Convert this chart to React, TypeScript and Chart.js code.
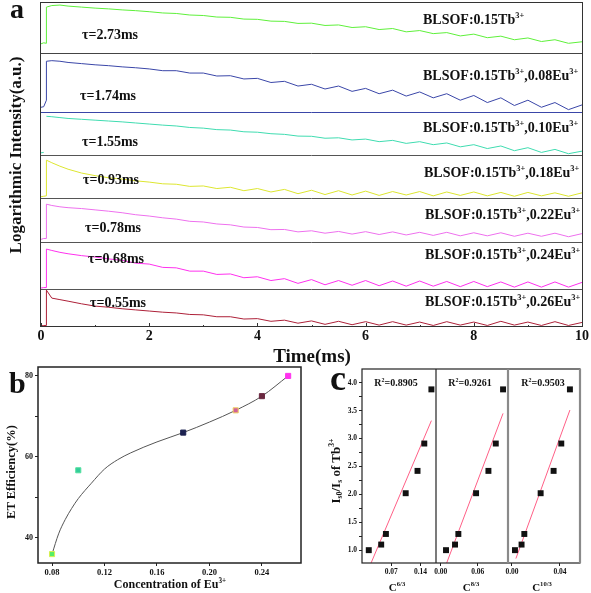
import React, { useEffect, useRef } from 'react';
import { Chart, registerables } from 'chart.js';

Chart.register(...registerables);

// ================= DATA =================
// Panel a: luminescence decay curves (log intensity, position inside each strip 0..100)
const decayTimes = [0, 0.05, 0.1, 0.1, 0.2, 0.35, 0.5,
  0.75,
  1, 1.25, 1.5, 1.75,
  2, 2.25, 2.5, 2.75,
  3, 3.25, 3.5, 3.75,
  4, 4.25, 4.5, 4.75,
  5, 5.25, 5.5, 5.75,
  6, 6.25, 6.5, 6.75,
  7, 7.25, 7.5, 7.75,
  8, 8.25, 8.5, 8.75,
  9, 9.25, 9.5, 9.75,
  10];

const tb015 = [18, 20, 19, 90, 93, 94, 92,
  90,
  88, 86.5, 84.5, 83,
  81, 78.5, 77.5, 74.5,
  73.5, 70.5, 70, 66.5,
  66, 62.5, 62, 58,
  58.5, 54, 55, 50,
  51.5, 46, 48, 41.5,
  44, 38, 40, 33.5,
  37, 30, 33, 26,
  29.5, 22.5, 26, 19,
  22];

const eu008 = [8, 9, 20, 86, 87, 86, 84,
  82,
  80, 78.5, 76.5, 75,
  73, 70, 70, 66,
  66, 61, 61.5, 56,
  57, 50, 52, 44,
  47, 39, 44, 35,
  40, 31, 37, 27,
  34, 24, 31, 20,
  28, 16, 24, 11,
  20, 8, 16, 4,
  12];

const eu010 = [5, 6, null, 90, 89, 87, 85,
  83,
  81, 79, 77, 74.5,
  72, 69.5, 67.5, 64,
  62.5, 59, 58, 54,
  53, 49.5, 48, 44,
  43.5, 39, 40, 35,
  37, 31, 34, 27,
  31, 24, 28, 19,
  24, 15, 21, 10,
  17, 6, 13, 3,
  9];

const eu018 = [3, 4, 5, 88, 82, 74, 67,
  58,
  52, 47, 44, 40,
  37, 33, 32, 27,
  28, 22, 25, 17,
  22, 14, 20, 10,
  18, 8, 17, 7,
  16, 6, 15, 7,
  15, 5, 14, 6,
  14, 5, 13, 4,
  13, 5, 12, 4,
  12];

const eu022 = [6, 8, 8, 86, 83, 80, 78,
  76,
  73, 70, 66.5, 62,
  59, 55, 52, 47,
  45.5, 41, 39, 34,
  33, 28, 28.5, 23,
  25.5, 20, 24, 18,
  23.5, 17, 23, 16,
  22, 15, 22, 14,
  21, 14, 21, 13,
  20, 13, 20, 12,
  19];

const eu024 = [2, 3, 3, 85, 82, 78, 75,
  71,
  68, 64, 61, 55,
  53, 46, 45, 38,
  38, 31, 32, 24,
  26, 18, 22, 12,
  20, 9, 18, 8,
  18, 7, 17, 6,
  17, 6, 16, 5,
  16, 5, 15, 4,
  15, 4, 15, 4,
  14];

const eu026 = [3, 4, 4, 97, 76, 72, 68,
  61,
  55, 52, 48, 45,
  42, 39, 37, 33,
  32, 27, 27, 21,
  22, 15, 18, 10,
  16, 7, 15, 6,
  14, 5, 14, 5,
  13, 4, 14, 5,
  13, 4, 15, 5,
  13, 4, 14, 4,
  12];

const decaySeries = [tb015, eu008, eu010, eu018, eu022, eu024, eu026];
const tbLevel = '0.15';
const euLevels = ['', '0.08', '0.10', '0.18', '0.22', '0.24', '0.26'];
const lifetimes = ['2.73', '1.74', '1.55', '0.93', '0.78', '0.68', '0.55'];
const timeTicks = [0, 2, 4, 6, 8, 10];

// Panel b: energy-transfer efficiency
const euConc = [0.08, 0.10, 0.18, 0.22, 0.24, 0.26];
const etEff = [36, 56.7, 66, 71.5, 75, 80];
const fitConc = [0.08, 0.085, 0.09, 0.095, 0.10, 0.11, 0.12, 0.13, 0.14, 0.16, 0.18, 0.20, 0.22, 0.24, 0.26];
const fitEff = [36, 41, 44.5, 47.3, 49.7, 53.5, 57, 59.3, 61, 63.7, 66, 68.6, 71.5, 75, 80];
const effXTicks = [0.08, 0.12, 0.16, 0.20, 0.24];
const effYTicks = [40, 50, 60, 70, 80];

// Panel c: Is0/Is vs C^(n/3)
const ratioY = [1.0, 1.1, 1.29, 2.02, 2.42, 2.91, 3.88];
const c6 = [0.0162, 0.0459, 0.0572, 0.1045, 0.1328, 0.149, 0.166];
const c8 = [0.0086, 0.0232, 0.0286, 0.0573, 0.0773, 0.0892, 0.101];
const c10 = [0.0025, 0.008, 0.0103, 0.0239, 0.0347, 0.0411, 0.0483];
const fit6X = [0.0217, 0.166];
const fit6Y = [0.77, 3.32];
const fit8X = [0.0097, 0.101];
const fit8Y = [0.77, 3.45];
const fit10X = [0.0033, 0.0483];
const fit10Y = [0.85, 3.51];
const r2Values = ['0.8905', '0.9261', '0.9503'];
const powers = ['6/3', '8/3', '10/3'];
const c6Ticks = [0.07, 0.14];
const c8Ticks = [0.0, 0.06];
const c10Ticks = [0.0, 0.04];
const ratioTicks = [1, 1.25, 1.5, 1.75, 2, 2.25, 2.5, 2.75, 3, 3.25, 3.5, 3.75, 4];

// ================= STYLE / LAYOUT =================
const SERIF = "'Liberation Serif', 'Times New Roman', serif";
const STRIP_IDS = ['s1', 's2', 's3', 's4', 's5', 's6', 'y'];
const STRIP_WEIGHTS = [51, 59, 43, 43, 44, 47, 38];
const STRIP_COLORS = ['#5ef03a', '#3a46a8', '#3fdcb0', '#dde630', '#ee70ee', '#ff30ee', '#ad2038'];
const SEP_COLORS = ['#444', '#3a46a8', '#555', '#555', '#555', '#555'];
const TAU_POS = [[82, 35], [80, 96], [82, 142], [83, 180], [85, 228], [88, 259], [90, 303]];
const LABEL_POS = [[423, 20], [423, 76], [423, 128], [424, 173], [425, 215], [425, 255], [425, 302]];
const B_POINT_FILL = ['#55ee66', '#33cc99', '#1c2250', '#d0609a', '#6a2840', '#ff33ee'];
const B_POINT_EDGE = ['#d8f050', '#55e0a0', '#1c2250', '#f0d060', '#6a2840', '#ff33ee'];

const font = (size: number) => ({ family: SERIF, size, weight: 'bold' as const });

function strokeLine(ctx: CanvasRenderingContext2D, x1: number, y1: number, x2: number, y2: number) {
  ctx.beginPath();
  ctx.moveTo(x1, y1);
  ctx.lineTo(x2, y2);
  ctx.stroke();
}

const frameA = {
  id: 'frameA',
  afterDraw(chart: any) {
    const { ctx, chartArea: a, scales } = chart;
    ctx.save();
    ctx.lineWidth = 1;
    for (let k = 0; k < STRIP_IDS.length - 1; k++) {
      const y = Math.round(scales[STRIP_IDS[k]].bottom) + 0.5;
      ctx.strokeStyle = SEP_COLORS[k];
      strokeLine(ctx, a.left, y, a.right, y);
    }
    ctx.strokeStyle = '#333';
    ctx.strokeRect(Math.round(a.left) - 0.5, Math.round(a.top) + 0.5, Math.round(a.right - a.left) + 1, Math.round(a.bottom - a.top) - 1);
    for (let v = 0; v <= 10; v++) {
      const x = Math.round(scales.x.getPixelForValue(v)) + 0.5;
      strokeLine(ctx, x, a.bottom, x, a.bottom - (v % 2 === 0 ? 4 : 2));
    }
    ctx.restore();
  },
};

const frameB = {
  id: 'frameB',
  afterDraw(chart: any) {
    const { ctx, chartArea: a } = chart;
    ctx.save();
    ctx.lineWidth = 1.5;
    ctx.strokeStyle = '#222';
    ctx.strokeRect(a.left, a.top, a.right - a.left, a.bottom - a.top);
    ctx.restore();
  },
};

const frameC = {
  id: 'frameC',
  afterDraw(chart: any) {
    const { ctx, chartArea: a, scales } = chart;
    ctx.save();
    ctx.lineWidth = 1.2;
    ctx.strokeStyle = '#222';
    ctx.strokeRect(a.left, a.top, a.right - a.left, a.bottom - a.top);
    strokeLine(ctx, scales.x2.left, a.top, scales.x2.left, a.bottom);
    ctx.lineWidth = 2.2;
    ctx.strokeStyle = '#8a8a8a';
    strokeLine(ctx, scales.x3.left, a.top, scales.x3.left, a.bottom);
    strokeLine(ctx, a.right, a.top, a.right, a.bottom);
    ctx.restore();
  },
};

function configA(): any {
  const scales: any = {
    x: {
      type: 'linear', axis: 'x', position: 'bottom', min: 0, max: 10,
      afterBuildTicks: (s: any) => { s.ticks = timeTicks.map((v) => ({ value: v })); },
      ticks: { font: font(14), color: '#111', padding: 1, autoSkip: false, maxRotation: 0 },
      grid: { display: false, drawTicks: false },
      border: { display: false },
      afterFit: (s: any) => { s.height = 19; },
    },
  };
  for (let k = STRIP_IDS.length - 1; k >= 0; k--) {
    scales[STRIP_IDS[k]] = {
      type: 'linear', axis: 'y', position: 'left', stack: 'decay', stackWeight: STRIP_WEIGHTS[k],
      min: 0, max: 100,
      ticks: { display: false },
      grid: { display: false, drawTicks: false },
      border: { display: false },
      afterFit: (s: any) => { s.width = 41; },
    };
  }
  return {
    type: 'line',
    data: {
      datasets: decaySeries.map((series, k) => ({
        data: decayTimes.map((t, i) => ({ x: t, y: series[i] })),
        yAxisID: STRIP_IDS[k],
        borderColor: STRIP_COLORS[k],
        borderWidth: 1,
        pointRadius: 0,
        tension: 0,
        spanGaps: false,
      })),
    },
    options: {
      responsive: false, maintainAspectRatio: false, animation: false, devicePixelRatio: 1,
      layout: { padding: { top: 2, right: 9, left: 0, bottom: 0 } },
      plugins: { legend: { display: false }, tooltip: { enabled: false } },
      scales,
    },
    plugins: [frameA],
  };
}

function configB(): any {
  return {
    type: 'line',
    data: {
      datasets: [
        {
          data: euConc.map((x, i) => ({ x, y: etEff[i] })),
          showLine: false, pointStyle: 'rect', pointRadius: 3.6,
          pointBackgroundColor: B_POINT_FILL, pointBorderColor: B_POINT_EDGE, pointBorderWidth: 1,
        },
        {
          data: fitConc.map((x, i) => ({ x, y: fitEff[i] })),
          borderColor: '#555', borderWidth: 1, pointRadius: 0, cubicInterpolationMode: 'monotone',
        },
      ],
    },
    options: {
      responsive: false, maintainAspectRatio: false, animation: false, devicePixelRatio: 1,
      layout: { padding: { top: 7, right: 5, left: 0, bottom: 0 } },
      plugins: { legend: { display: false }, tooltip: { enabled: false } },
      scales: {
        x: {
          type: 'linear', min: 0.0693, max: 0.2698,
          afterBuildTicks: (s: any) => { s.ticks = effXTicks.map((v) => ({ value: v })); },
          ticks: { font: font(8.5), color: '#111', padding: 2, autoSkip: false, maxRotation: 0, callback: (v: any) => Number(v).toFixed(2) },
          grid: { drawOnChartArea: false, tickLength: 3, color: '#222' },
          border: { display: false },
          afterFit: (s: any) => { s.height = 30; },
        },
        y: {
          type: 'linear', min: 33.8, max: 82.2,
          afterBuildTicks: (s: any) => { s.ticks = effYTicks.map((v) => ({ value: v })); },
          ticks: { font: font(8), color: '#111', padding: 2, autoSkip: false, callback: (v: any) => (Number(v) % 20 === 0 ? String(v) : '') },
          grid: { drawOnChartArea: false, tickLength: 3, color: '#222' },
          border: { display: false },
          afterFit: (s: any) => { s.width = 38; },
        },
      },
    },
    plugins: [frameB],
  };
}

function configC(): any {
  const xs = [c6, c8, c10];
  const fitX = [fit6X, fit8X, fit10X];
  const fitY = [fit6Y, fit8Y, fit10Y];
  const ids = ['x', 'x2', 'x3'];
  const ranges = [[0, 0.177], [-0.0076, 0.109], [-0.0033, 0.0567]];
  const tickSets = [c6Ticks, c8Ticks, c10Ticks];
  const weights = [74, 72, 72];
  const scales: any = {};
  ids.forEach((id, k) => {
    scales[id] = {
      type: 'linear', axis: 'x', position: 'bottom', stack: 'conc', stackWeight: weights[k],
      min: ranges[k][0], max: ranges[k][1],
      afterBuildTicks: (s: any) => { s.ticks = tickSets[k].map((v) => ({ value: v })); },
      ticks: { font: font(7.5), color: '#111', padding: 2, autoSkip: false, maxRotation: 0, callback: (v: any) => Number(v).toFixed(2) },
      grid: { drawOnChartArea: false, tickLength: 3, color: '#222' },
      border: { display: false },
      afterFit: (s: any) => { s.height = 30; },
    };
  });
  scales.y = {
    type: 'linear', axis: 'y', position: 'left', min: 0.77, max: 4.245,
    afterBuildTicks: (s: any) => { s.ticks = ratioTicks.map((v) => ({ value: v })); },
    ticks: { font: font(7.5), color: '#111', padding: 2, autoSkip: false, callback: (v: any) => (Number(v) % 0.5 === 0 ? Number(v).toFixed(1) : '') },
    grid: { drawOnChartArea: false, tickLength: 3, color: '#222' },
    border: { display: false },
    afterFit: (s: any) => { s.width = 62; },
  };
  const pointSets = xs.map((arr, k) => ({
    data: arr.map((x, i) => ({ x, y: ratioY[i] })),
    xAxisID: ids[k], yAxisID: 'y',
    pointStyle: 'rect', pointRadius: 4.2, pointBackgroundColor: '#111', pointBorderColor: '#111', pointBorderWidth: 0,
    showLine: false,
  }));
  const fitSets = fitX.map((arr, k) => ({
    data: arr.map((x, i) => ({ x, y: fitY[k][i] })),
    xAxisID: ids[k], yAxisID: 'y',
    showLine: true, pointRadius: 0, borderColor: '#ff5f86', borderWidth: 1,
  }));
  return {
    type: 'scatter',
    data: { datasets: [...pointSets, ...fitSets] },
    options: {
      responsive: false, maintainAspectRatio: false, animation: false, devicePixelRatio: 1,
      layout: { padding: { top: 9, right: 11, left: 0, bottom: 0 } },
      plugins: { legend: { display: false }, tooltip: { enabled: false } },
      scales,
    },
    plugins: [frameC],
  };
}

// ================= TEXT HELPERS =================
function T(props: any) {
  const { x, y, size, anchor = 'start', rot = false, children, color = '#111' } = props;
  const tx = anchor === 'start' ? '0%' : anchor === 'middle' ? '-50%' : '-100%';
  return (
    <div
      style={{
        position: 'absolute', left: x, top: y, fontFamily: SERIF, fontWeight: 700, fontSize: size,
        lineHeight: 1, whiteSpace: 'nowrap', color,
        transform: rot ? 'translate(-50%,-50%) rotate(-90deg)' : `translate(${tx},-50%)`,
      }}
    >
      {children}
    </div>
  );
}
const Sup = ({ children }: any) => <sup style={{ fontSize: '0.6em', verticalAlign: '0.7em', lineHeight: 0 }}>{children}</sup>;
const Sub = ({ children }: any) => <sub style={{ fontSize: '0.6em', verticalAlign: '-0.35em', lineHeight: 0 }}>{children}</sub>;

export default function App() {
  const refA = useRef<HTMLCanvasElement>(null);
  const refB = useRef<HTMLCanvasElement>(null);
  const refC = useRef<HTMLCanvasElement>(null);

  useEffect(() => {
    const charts = [
      new Chart(refA.current as HTMLCanvasElement, configA()),
      new Chart(refB.current as HTMLCanvasElement, configB()),
      new Chart(refC.current as HTMLCanvasElement, configC()),
    ];
    return () => charts.forEach((c) => c.destroy());
  }, []);

  return (
    <div style={{ position: 'absolute', left: 0, top: 0, width: 591, height: 593, background: '#fff', overflow: 'hidden' }}>
      <canvas ref={refA} width={591} height={346} style={{ position: 'absolute', left: 0, top: 0, width: 591, height: 346 }} />
      <canvas ref={refB} width={306} height={233} style={{ position: 'absolute', left: 0, top: 360, width: 306, height: 233 }} />
      <canvas ref={refC} width={291} height={233} style={{ position: 'absolute', left: 300, top: 360, width: 291, height: 233 }} />

      {/* panel a */}
      <T x={10} y={8.5} size={28}>a</T>
      <T x={15} y={155} size={17} rot>Logarithmic Intensity(a.u.)</T>
      <T x={312} y={355} size={19} anchor="middle">Time(ms)</T>
      {lifetimes.map((tau, i) => (
        <T key={'tau' + i} x={TAU_POS[i][0]} y={TAU_POS[i][1]} size={14}>τ={tau}ms</T>
      ))}
      {euLevels.map((eu, i) => (
        <T key={'lab' + i} x={LABEL_POS[i][0]} y={LABEL_POS[i][1]} size={14}>
          BLSOF:{tbLevel}Tb<Sup>3+</Sup>
          {eu ? <>,{eu}Eu<Sup>3+</Sup></> : null}
        </T>
      ))}

      {/* panel b */}
      <T x={9} y={383} size={30}>b</T>
      <T x={11} y={472} size={12.5} rot>ET Efficiency(%)</T>
      <T x={170} y={584} size={12} anchor="middle">Concentration of Eu<Sup>3+</Sup></T>

      {/* panel c */}
      <T x={330} y={378} size={36}>c</T>
      <T x={335} y={471} size={13} rot>I<Sub>s0</Sub>/I<Sub>s</Sub> of Tb<Sup>3+</Sup></T>
      {r2Values.map((r, i) => (
        <T key={'r2' + i} x={[396, 470, 543][i]} y={383} size={10} anchor="middle">R<Sup>2</Sup>={r}</T>
      ))}
      {powers.map((p, i) => (
        <T key={'pw' + i} x={[397, 471, 542][i]} y={587} size={11} anchor="middle">C<Sup>{p}</Sup></T>
      ))}
    </div>
  );
}
